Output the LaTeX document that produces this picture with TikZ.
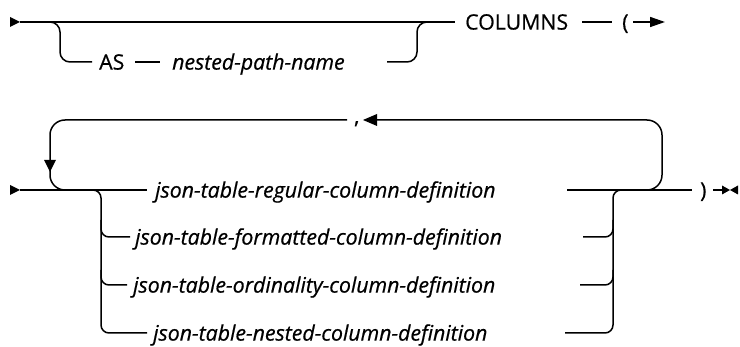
\documentclass[tikz,border=0pt]{standalone}
\usepackage{fontspec}
\newfontfamily\railfont{Open Sans}[FakeBold=0.6]
\usetikzlibrary{arrows.meta}
\begin{document}
\begin{tikzpicture}[x=1pt,y=-1pt,
  rail/.style={line width=1.5pt, rounded corners=10pt},
  loop/.style={line width=1.5pt, rounded corners=15pt},
  kw/.style={inner sep=0pt, text height=15.2pt, text depth=0pt, anchor=west, font=\railfont\fontsize{21.3}{24}\selectfont},
  var/.style={kw, font=\railfont\fontsize{21.3}{24}\selectfont\itshape},
  tip/.style={fill=black, draw=none}]
\useasboundingbox (0,0) rectangle (740,347);

% ---------- row 1 ----------
\node[kw]  (as)   at (99,62)  {AS};
\node[var] (npn)  at (172,62) {nested-path-name};
\node[kw]  (cols) at (465,22) {COLUMNS};
\node[kw]  (lp)   at (622,22) {(};

\coordinate (s1)   at (20,22);
\coordinate (b1)   at (50,22);
\coordinate (b1v)  at (60,62);
\coordinate (npnr) at (387,62);
\coordinate (j1v)  at (417,22);
\coordinate (j1)   at (427,22);
\coordinate (c1)   at (582,22);
\coordinate (c2)   at (612,22);
\coordinate (a1s)  at (633,22);
\coordinate (a1e)  at (665,22);

\fill[tip] (10,17) -- (s1) -- (10,27) -- cycle;
\draw[rail] (s1) -- (455,22);
\draw[rail] (b1) -| (b1v) -- ([xshift=-7pt]as.west);
\draw[rail] (135,62) -- ([xshift=-12pt]npn.west);
\draw[rail] (npnr) -| (j1v) -- (j1);
\draw[rail] (c1) -- (c2);
\draw[line width=1.5pt, -{Triangle[length=15pt,width=10pt]}] (a1s) -- (a1e);

% ---------- row 2 ----------
\node[var] (reg)   at (155,190) {json-table-regular-column-definition};
\node[var] (fmt)   at (135,237) {json-table-formatted-column-definition};
\node[var] (ord)   at (133,285) {json-table-ordinality-column-definition};
\node[var] (nst)   at (153,333) {json-table-nested-column-definition};
\node[kw]  (rp)    at (700,190) {)};
\node[kw]  (comma) at (354,116) {,};

\coordinate (s2)   at (20,190);
\coordinate (regr) at (567,190);
\coordinate (fmtr) at (583,237);
\coordinate (ordr) at (580,285);
\coordinate (nstr) at (565,333);
\coordinate (e2)   at (692,190);
\coordinate (e3)   at (713,190);
\coordinate (lb)   at (93,190);
\coordinate (lv)   at (101,190);
\coordinate (rv)   at (613,190);
\coordinate (rj)   at (621,190);
\coordinate (ltop) at (50,120);
\coordinate (lbot) at (50,190);
\coordinate (rtop) at (662,120);
\coordinate (rbot) at (662,190);
\coordinate (lp2)  at (640,190);

\fill[tip] (10,185) -- (s2) -- (10,195) -- cycle;
\draw[rail] (s2) -- ([xshift=-8pt]reg.west);
\draw[rail] (regr) -- (e2);
\draw[line width=1.5pt] (e3) -- (722,190);
\fill[tip] (722,185.5) -- (730,190) -- (722,194.5) -- cycle;
\fill[tip] (738,185.5) -- (730,190) -- (738,194.5) -- cycle;

% repeat loop
\draw[loop] (347,120) -- (ltop) -- (lbot) -- (80,190);
\fill[tip] (44,160) -- (56,160) -- (50,172) -- cycle;
\draw[loop] (lp2) -- (rbot) -- (rtop) -- (377,120);
\fill[tip] (377,114) -- (363,120) -- (377,126) -- cycle;

% left branches
\draw[rail, rounded corners=8pt] (lb) -- (lv) |- ([xshift=-6pt]nst.west);
\draw[rail, rounded corners=8pt] (101,220) |- ([xshift=-5pt]fmt.west);
\draw[rail, rounded corners=8pt] (101,270) |- ([xshift=-6pt]ord.west);

% right branches
\draw[rail, rounded corners=8pt] (nstr) -| (rv) -- (rj);
\draw[rail, rounded corners=8pt] (fmtr) -| (613,220);
\draw[rail, rounded corners=8pt] (ordr) -| (613,270);
\end{tikzpicture}
\end{document}
